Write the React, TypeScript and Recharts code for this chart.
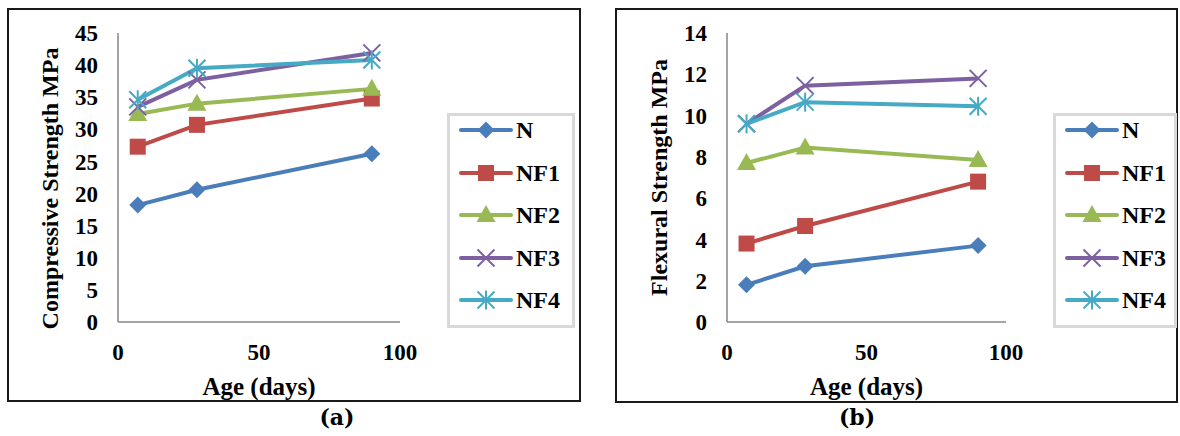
import React from "react";
import { Label, Legend, Line, LineChart, XAxis, YAxis } from "recharts";

// ages in days (x) and strengths
const days = [7, 28, 90];
const seriesNames = ["N", "NF1", "NF2", "NF3", "NF4"];

const compN = [18.2, 20.6, 26.2];
const compNF1 = [27.3, 30.7, 34.8];
const compNF2 = [32.4, 34.0, 36.3];
const compNF3 = [33.5, 37.7, 41.9];
const compNF4 = [34.6, 39.5, 40.8];

const flexN = [1.8, 2.7, 3.7];
const flexNF1 = [3.8, 4.65, 6.8];
const flexNF2 = [7.7, 8.45, 7.85];
const flexNF3 = [9.6, 11.45, 11.8];
const flexNF4 = [9.6, 10.65, 10.45];

const ageTicks = [0, 50, 100];
const compTicks = [0, 5, 10, 15, 20, 25, 30, 35, 40, 45];
const flexTicks = [0, 2, 4, 6, 8, 10, 12, 14];

const colors: Record<string, string> = {
  N: "#4a7ebb",
  NF1: "#be4b48",
  NF2: "#98b954",
  NF3: "#7d60a0",
  NF4: "#46aac5",
};

type Shape = "diamond" | "square" | "triangle" | "x" | "star";
const shapes: Record<string, Shape> = {
  N: "diamond",
  NF1: "square",
  NF2: "triangle",
  NF3: "x",
  NF4: "star",
};

const FONT = '"Liberation Serif", "Times New Roman", serif';
const AXIS = "#868686";

function buildRows(cols: number[][]) {
  return days.map((d, i) => {
    const row: Record<string, number> = { day: d };
    seriesNames.forEach((n, k) => (row[n] = cols[k][i]));
    return row;
  });
}

const compData = buildRows([compN, compNF1, compNF2, compNF3, compNF4]);
const flexData = buildRows([flexN, flexNF1, flexNF2, flexNF3, flexNF4]);

function Marker({ shape, cx, cy, color }: { shape: Shape; cx: number; cy: number; color: string }) {
  const s = 8.5;
  switch (shape) {
    case "diamond":
      return <polygon points={`${cx},${cy - s} ${cx + s},${cy} ${cx},${cy + s} ${cx - s},${cy}`} fill={color} />;
    case "square":
      return <rect x={cx - 8} y={cy - 8} width={16} height={16} fill={color} />;
    case "triangle":
      return <polygon points={`${cx},${cy - 10} ${cx + 9.5},${cy + 7} ${cx - 9.5},${cy + 7}`} fill={color} />;
    case "x":
      return (
        <g stroke={color} strokeWidth={2}>
          <line x1={cx - s} y1={cy - s} x2={cx + s} y2={cy + s} />
          <line x1={cx - s} y1={cy + s} x2={cx + s} y2={cy - s} />
        </g>
      );
    default:
      return (
        <g stroke={color} strokeWidth={2}>
          <line x1={cx - s} y1={cy - s} x2={cx + s} y2={cy + s} />
          <line x1={cx - s} y1={cy + s} x2={cx + s} y2={cy - s} />
          <line x1={cx} y1={cy - s - 1} x2={cx} y2={cy + s + 1} />
        </g>
      );
  }
}

function makeLegend(width: number) {
  return (props: any) => {
    const payload = (props.payload || []) as any[];
    return (
      <div
        style={{
          position: "relative",
          width,
          height: 215,
          border: "3px solid #d9d9d9",
          boxSizing: "border-box",
          background: "#fff",
        }}
      >
        {payload.map((e, i) => (
          <div
            key={e.value}
            style={{
              position: "absolute",
              left: 8,
              top: 4 + i * 42.5,
              height: 20,
              display: "flex",
              alignItems: "center",
            }}
          >
            <svg width={56} height={20}>
              <line x1={3} y1={10} x2={53} y2={10} stroke={colors[e.value]} strokeWidth={4} strokeLinecap="round" />
              <Marker shape={shapes[e.value]} cx={28} cy={10} color={colors[e.value]} />
            </svg>
            <span style={{ fontFamily: FONT, fontWeight: "bold", fontSize: 24, color: "#000", marginLeft: 2, lineHeight: "20px" }}>
              {e.value}
            </span>
          </div>
        ))}
      </div>
    );
  };
}

function yTitle(text: string, dy: number) {
  return (props: any) => {
    const vb = props.viewBox || { x: 0, y: 33, width: 118, height: 289 };
    const cx = vb.x + vb.width - 68;
    const cy = vb.y + vb.height / 2 + dy;
    return (
      <text
        x={cx}
        y={cy}
        transform={`rotate(-90 ${cx} ${cy})`}
        textAnchor="middle"
        dominantBaseline="central"
        fontFamily={FONT}
        fontWeight="bold"
        fontSize={24}
        fill="#000"
      >
        {text}
      </text>
    );
  };
}

function xTitle(props: any) {
  const vb = props.viewBox || { x: 118, y: 322, width: 282, height: 66 };
  return (
    <text
      x={vb.x + vb.width / 2}
      y={vb.y + 73}
      textAnchor="middle"
      fontFamily={FONT}
      fontWeight="bold"
      fontSize={25}
      fill="#000"
    >
      Age (days)
    </text>
  );
}

const tickStyle = { fill: "#000", fontSize: 23, fontWeight: "bold" as const, fontFamily: FONT };

function Panel({
  data,
  ticks,
  yMax,
  yLabel,
  yLabelDy,
  axisWidth,
  right,
  legendLeft,
  legendWidth,
}: {
  data: Record<string, number>[];
  ticks: number[];
  yMax: number;
  yLabel: string;
  yLabelDy: number;
  axisWidth: number;
  right: number;
  legendLeft: number;
  legendWidth: number;
}) {
  return (
    <LineChart width={590} height={436} data={data} margin={{ top: 33, right, bottom: 48, left: 0 }}>
      <XAxis
        type="number"
        dataKey="day"
        domain={[0, 100]}
        ticks={ageTicks}
        interval={0}
        tickLine={false}
        tickSize={0}
        tickMargin={22}
        height={66}
        axisLine={{ stroke: AXIS, strokeWidth: 1.5 }}
        tick={tickStyle}
      >
        <Label content={xTitle} />
      </XAxis>
      <YAxis
        type="number"
        domain={[0, yMax]}
        ticks={ticks}
        interval={0}
        width={axisWidth}
        tickLine={false}
        tickSize={0}
        tickMargin={20}
        axisLine={{ stroke: AXIS, strokeWidth: 1.5 }}
        tick={tickStyle}
      >
        <Label content={yTitle(yLabel, yLabelDy)} />
      </YAxis>
      <Legend
        layout="vertical"
        align="center"
        verticalAlign="middle"
        wrapperStyle={{ left: legendLeft, top: 113, width: legendWidth, height: 215 }}
        content={makeLegend(legendWidth)}
      />
      {seriesNames.map((n) => (
        <Line
          key={n}
          dataKey={n}
          name={n}
          stroke={colors[n]}
          strokeWidth={4}
          isAnimationActive={false}
          dot={(p: any) => <Marker key={`${n}-${p.index}`} shape={shapes[n]} cx={p.cx} cy={p.cy} color={colors[n]} />}
          activeDot={false}
        />
      ))}
    </LineChart>
  );
}

const caption: React.CSSProperties = {
  position: "absolute",
  top: 404,
  width: 60,
  textAlign: "center",
  fontFamily: '"DejaVu Serif", serif',
  fontWeight: "bold",
  fontSize: 22,
  color: "#000",
};

export default function App() {
  return (
    <div style={{ position: "fixed", left: 0, top: 0, width: 1180, height: 436, background: "#fff", overflow: "hidden" }}>
      <div style={{ position: "absolute", left: 7, top: 8, width: 574, height: 394, border: "2px solid #1a1a1a", boxSizing: "border-box" }} />
      <div style={{ position: "absolute", left: 615, top: 8, width: 563, height: 395, border: "2px solid #1a1a1a", boxSizing: "border-box" }} />
      <div style={{ position: "absolute", left: 0, top: 0 }}>
        <Panel
          data={compData}
          ticks={compTicks}
          yMax={45}
          yLabel="Compressive Strength MPa"
          yLabelDy={11}
          axisWidth={118}
          right={190}
          legendLeft={447}
          legendWidth={128}
        />
      </div>
      <div style={{ position: "absolute", left: 590, top: 0 }}>
        <Panel
          data={flexData}
          ticks={flexTicks}
          yMax={14}
          yLabel="Flexural Strength MPa"
          yLabelDy={0}
          axisWidth={137}
          right={174}
          legendLeft={463}
          legendWidth={124}
        />
      </div>
      <div style={{ ...caption, left: 307 }}>(a)</div>
      <div style={{ ...caption, left: 827 }}>(b)</div>
    </div>
  );
}
